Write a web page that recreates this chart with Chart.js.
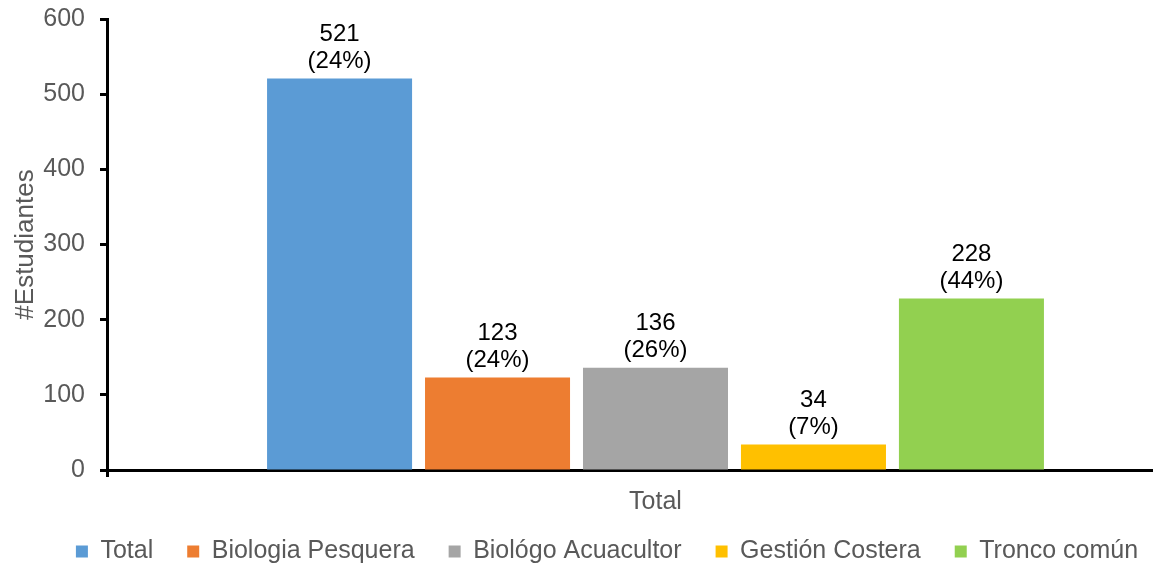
<!DOCTYPE html>
<html>
<head>
<meta charset="utf-8">
<script src="https://cdn.jsdelivr.net/npm/chart.js@4.4.1/dist/chart.umd.min.js"></script>
<style>
  html, body { margin: 0; padding: 0; background: #ffffff; overflow: hidden; }
  #wrap { width: 1215px; height: 565px; }
</style>
</head>
<body>
<div id="wrap"><canvas id="c" width="1215" height="565"></canvas></div>
<script>
const categories = ['Total'];
const seriesNames = ['Total', 'Biologia Pesquera', 'Biológo Acuacultor', 'Gestión Costera', 'Tronco común'];
const seriesValues = [521, 123, 136, 34, 228];
const seriesPercents = [24, 24, 26, 7, 44];
const seriesColors = ['#5B9BD5', '#ED7D31', '#A5A5A5', '#FFC000', '#92D050'];
const yTicks = [0, 100, 200, 300, 400, 500, 600];

const FONT = 'Liberation Sans, Arial, sans-serif';

const datasets = seriesNames.map((name, i) => ({
  label: name,
  data: [seriesValues[i]],
  backgroundColor: seriesColors[i],
  borderWidth: 0,
  categoryPercentage: 0.72,
  barPercentage: 0.918
}));

const labelPlugin = {
  id: 'barLabels',
  afterLayout(chart) {
    const lg = chart.legend;
    if (lg) {
      lg.top -= 22; lg.bottom -= 22;
      lg.left += 5; lg.right += 5;
    }
  },
  afterDatasetsDraw(chart) {
    const ctx = chart.ctx;
    ctx.save();
    ctx.font = '24px ' + FONT;
    ctx.fillStyle = '#000000';
    ctx.textAlign = 'center';
    ctx.textBaseline = 'middle';
    chart.data.datasets.forEach((ds, i) => {
      const meta = chart.getDatasetMeta(i);
      meta.data.forEach((bar) => {
        ctx.fillText('(' + seriesPercents[i] + '%)', bar.x, bar.y - 17);
        ctx.fillText(String(seriesValues[i]), bar.x, bar.y - 44);
      });
    });
    ctx.restore();
  }
};

new Chart(document.getElementById('c'), {
  type: 'bar',
  data: { labels: categories, datasets: datasets },
  plugins: [labelPlugin],
  options: {
    responsive: false,
    animation: false,
    layout: { padding: { top: 19, right: 11, left: 0, bottom: -31 } },
    plugins: {
      tooltip: { enabled: false },
      legend: {
        position: 'bottom',
        labels: {
          boxWidth: 12,
          boxHeight: 12,
          padding: 34,
          color: '#595959',
          font: { family: FONT, size: 25 }
        }
      }
    },
    scales: {
      x: {
        offset: true,
        border: { display: true, color: '#000000', width: 3 },
        grid: { display: true, drawOnChartArea: false, drawTicks: true, tickLength: 7, tickColor: '#000000', tickWidth: 3, offset: true },
        ticks: { color: '#595959', padding: 10, font: { family: FONT, size: 25 } }
      },
      y: {
        min: 0,
        max: 600,
        afterBuildTicks(scale) { scale.ticks = yTicks.map(v => ({ value: v })); },
        border: { display: true, color: '#000000', width: 3 },
        grid: { display: true, drawOnChartArea: false, drawTicks: true, tickLength: 7, tickColor: '#000000', tickWidth: 3 },
        ticks: { color: '#595959', padding: 15, font: { family: FONT, size: 25 } },
        title: {
          display: true,
          text: '#Estudiantes',
          color: '#595959',
          font: { family: FONT, size: 26 },
          padding: { top: 10, bottom: 0 }
        },
        afterFit(scale) { scale.width = 107; scale.paddingTop = 0; scale.paddingBottom = 0; }
      }
    }
  }
});
</script>
</body>
</html>
